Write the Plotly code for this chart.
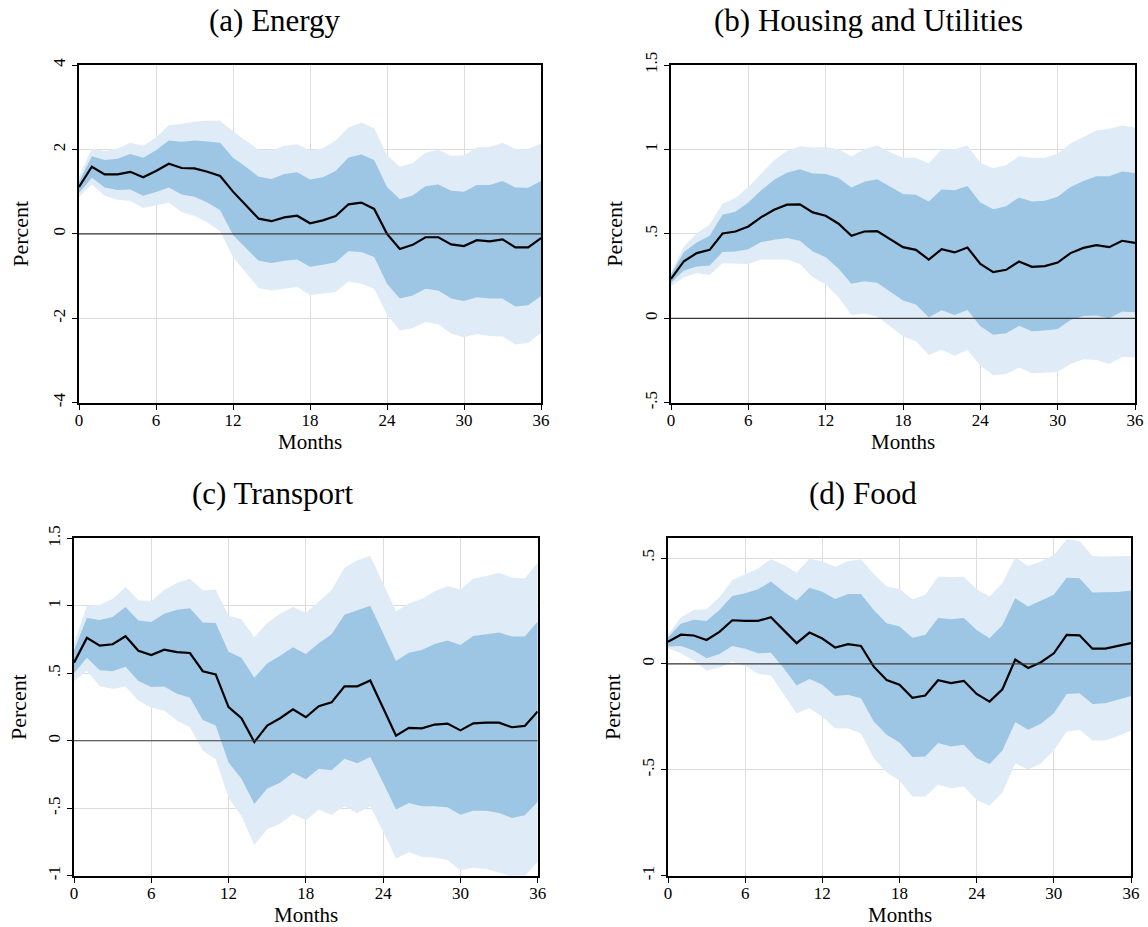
import plotly.graph_objects as go

# Horizon in months
months = list(range(37))

# (a) Energy: point estimate and 68% / 90% bands
irf_a = [1.11, 1.59, 1.41, 1.41, 1.47, 1.34, 1.49, 1.66, 1.56, 1.55, 1.47, 1.37, 1.00, 0.67, 0.36, 0.30, 0.39, 0.43, 0.25,
         0.32, 0.42, 0.70, 0.74, 0.59, 0.00, -0.36, -0.26, -0.08, -0.08, -0.25, -0.29, -0.15, -0.18, -0.13, -0.32, -0.32, -0.10]
hi68_a = [1.23, 1.84, 1.75, 1.78, 1.89, 1.80, 1.98, 2.21, 2.18, 2.21, 2.19, 2.16, 1.80, 1.59, 1.35, 1.30, 1.42, 1.46, 1.29,
          1.34, 1.49, 1.81, 1.88, 1.75, 1.11, 0.82, 0.91, 1.13, 1.17, 1.02, 1.00, 1.16, 1.16, 1.25, 1.10, 1.09, 1.25]
lo68_a = [0.97, 1.33, 1.10, 1.04, 1.05, 0.90, 0.99, 1.10, 0.93, 0.88, 0.74, 0.56, -0.03, -0.34, -0.64, -0.69, -0.64, -0.61, -0.78,
          -0.73, -0.67, -0.41, -0.43, -0.55, -1.18, -1.53, -1.46, -1.30, -1.34, -1.53, -1.59, -1.50, -1.53, -1.53, -1.72, -1.69, -1.47]
hi90_a = [1.35, 2.02, 1.96, 2.02, 2.16, 2.09, 2.28, 2.57, 2.60, 2.66, 2.68, 2.68, 2.43, 2.22, 1.99, 1.98, 2.09, 2.12, 1.98,
          2.03, 2.21, 2.52, 2.64, 2.50, 1.86, 1.59, 1.68, 1.92, 1.99, 1.85, 1.86, 2.05, 2.06, 2.16, 2.01, 2.01, 2.14]
lo90_a = [0.88, 1.17, 0.90, 0.81, 0.78, 0.61, 0.68, 0.74, 0.51, 0.43, 0.27, 0.06, -0.55, -0.92, -1.28, -1.34, -1.30, -1.26, -1.45,
          -1.42, -1.38, -1.13, -1.18, -1.30, -1.91, -2.29, -2.23, -2.09, -2.14, -2.36, -2.45, -2.37, -2.42, -2.43, -2.62, -2.58, -2.35]

# (b) Housing and Utilities
irf_b = [0.233, 0.338, 0.386, 0.405, 0.502, 0.514, 0.544, 0.599, 0.643, 0.673, 0.675, 0.627, 0.607, 0.560, 0.489, 0.514, 0.516,
         0.467, 0.421, 0.405, 0.348, 0.409, 0.390, 0.419, 0.322, 0.273, 0.287, 0.336, 0.305, 0.309, 0.330, 0.386, 0.417, 0.433,
         0.421, 0.459, 0.447]
hi68_b = [0.26, 0.392, 0.449, 0.489, 0.613, 0.631, 0.686, 0.758, 0.821, 0.862, 0.882, 0.857, 0.855, 0.831, 0.775, 0.809, 0.823,
          0.777, 0.736, 0.732, 0.692, 0.762, 0.758, 0.783, 0.686, 0.645, 0.663, 0.716, 0.692, 0.696, 0.720, 0.777, 0.813, 0.841,
          0.841, 0.870, 0.861]
lo68_b = [0.21, 0.283, 0.307, 0.313, 0.392, 0.396, 0.409, 0.451, 0.465, 0.475, 0.459, 0.396, 0.362, 0.293, 0.204, 0.220, 0.210,
          0.158, 0.105, 0.081, 0.006, 0.047, 0.020, 0.049, -0.047, -0.097, -0.089, -0.045, -0.077, -0.073, -0.063, -0.010, 0.014,
          0.016, 0.000, 0.040, 0.036]
hi90_b = [0.27, 0.425, 0.504, 0.556, 0.679, 0.712, 0.777, 0.857, 0.936, 0.991, 1.019, 1.011, 1.015, 1.001, 0.959, 1.001, 1.023,
          0.983, 0.950, 0.950, 0.918, 0.999, 1.001, 1.023, 0.920, 0.888, 0.906, 0.959, 0.950, 0.950, 0.975, 1.035, 1.074, 1.112,
          1.122, 1.141, 1.130]
lo90_b = [0.19, 0.243, 0.267, 0.257, 0.326, 0.322, 0.322, 0.348, 0.348, 0.348, 0.322, 0.243, 0.202, 0.125, 0.020, 0.028, 0.010,
          -0.047, -0.107, -0.136, -0.218, -0.186, -0.222, -0.188, -0.281, -0.338, -0.330, -0.291, -0.326, -0.322, -0.316, -0.271,
          -0.243, -0.247, -0.271, -0.229, -0.231]

# (c) Transport
irf_c = [0.578, 0.762, 0.705, 0.715, 0.774, 0.667, 0.635, 0.675, 0.657, 0.650, 0.515, 0.491, 0.249, 0.167, -0.010, 0.112, 0.167,
         0.232, 0.174, 0.256, 0.284, 0.403, 0.403, 0.446, 0.242, 0.037, 0.095, 0.092, 0.120, 0.127, 0.077, 0.129, 0.134, 0.134,
         0.100, 0.110, 0.217]
hi68_c = [0.67, 0.909, 0.894, 0.916, 0.991, 0.891, 0.879, 0.941, 0.971, 0.981, 0.876, 0.872, 0.660, 0.615, 0.466, 0.573, 0.630,
          0.692, 0.642, 0.722, 0.789, 0.934, 0.966, 1.001, 0.797, 0.590, 0.652, 0.672, 0.717, 0.742, 0.710, 0.777, 0.789, 0.802,
          0.772, 0.772, 0.884]
lo68_c = [0.50, 0.615, 0.523, 0.515, 0.548, 0.443, 0.398, 0.401, 0.349, 0.319, 0.154, 0.112, -0.162, -0.281, -0.468, -0.354,
          -0.311, -0.237, -0.286, -0.207, -0.219, -0.134, -0.167, -0.120, -0.311, -0.510, -0.461, -0.486, -0.486, -0.493, -0.548,
          -0.518, -0.518, -0.535, -0.573, -0.553, -0.453]
hi90_c = [0.72, 1.001, 1.008, 1.051, 1.140, 1.041, 1.036, 1.116, 1.170, 1.200, 1.113, 1.121, 0.926, 0.901, 0.767, 0.872, 0.941,
          0.991, 0.946, 1.033, 1.116, 1.282, 1.337, 1.370, 1.163, 0.959, 1.016, 1.051, 1.108, 1.145, 1.121, 1.200, 1.220, 1.245,
          1.208, 1.203, 1.320]
lo90_c = [0.44, 0.518, 0.403, 0.383, 0.401, 0.299, 0.244, 0.224, 0.149, 0.100, -0.075, -0.137, -0.423, -0.560, -0.772, -0.655,
          -0.615, -0.543, -0.590, -0.510, -0.548, -0.486, -0.538, -0.486, -0.672, -0.872, -0.827, -0.859, -0.867, -0.884, -0.959,
          -0.941, -0.951, -0.976, -1.008, -1.001, -0.896]

# (d) Food
irf_d = [0.105, 0.138, 0.134, 0.113, 0.151, 0.206, 0.203, 0.203, 0.220, 0.160, 0.098, 0.148, 0.120, 0.077, 0.093, 0.085, -0.013,
         -0.076, -0.098, -0.160, -0.149, -0.077, -0.091, -0.080, -0.142, -0.178, -0.120, 0.020, -0.019, 0.008, 0.050, 0.137,
         0.135, 0.072, 0.072, 0.085, 0.098]
hi68_d = [0.126, 0.189, 0.208, 0.203, 0.255, 0.321, 0.333, 0.352, 0.389, 0.341, 0.299, 0.360, 0.341, 0.307, 0.330, 0.330, 0.255,
          0.192, 0.176, 0.124, 0.137, 0.217, 0.211, 0.217, 0.160, 0.121, 0.182, 0.310, 0.271, 0.297, 0.326, 0.407, 0.404, 0.337,
          0.337, 0.340, 0.346]
lo68_d = [0.082, 0.085, 0.063, 0.027, 0.047, 0.085, 0.071, 0.050, 0.053, -0.020, -0.102, -0.071, -0.099, -0.151, -0.146, -0.162,
          -0.272, -0.335, -0.371, -0.440, -0.437, -0.374, -0.390, -0.382, -0.445, -0.473, -0.409, -0.275, -0.311, -0.283, -0.233,
          -0.142, -0.138, -0.189, -0.186, -0.170, -0.151]
hi90_d = [0.137, 0.220, 0.255, 0.258, 0.315, 0.396, 0.423, 0.451, 0.494, 0.467, 0.431, 0.497, 0.483, 0.459, 0.486, 0.494, 0.425,
          0.365, 0.354, 0.305, 0.326, 0.411, 0.409, 0.412, 0.352, 0.318, 0.381, 0.503, 0.462, 0.484, 0.514, 0.588, 0.580, 0.510,
          0.507, 0.507, 0.510]
lo90_d = [0.074, 0.050, 0.016, -0.031, -0.017, 0.011, -0.009, -0.047, -0.055, -0.146, -0.233, -0.209, -0.249, -0.304, -0.305,
          -0.327, -0.445, -0.513, -0.551, -0.626, -0.626, -0.571, -0.587, -0.579, -0.642, -0.670, -0.607, -0.469, -0.500, -0.469,
          -0.409, -0.319, -0.311, -0.362, -0.362, -0.340, -0.315]

titles = ["(a) Energy", "(b) Housing and Utilities", "(c) Transport", "(d) Food"]
x_ticks = [0, 6, 12, 18, 24, 30, 36]
y_tickvals = [[-4, -2, 0, 2, 4], [-0.5, 0, 0.5, 1, 1.5], [-1, -0.5, 0, 0.5, 1, 1.5], [-1, -0.5, 0, 0.5]]
y_ticktext = [["-4", "-2", "0", "2", "4"], ["-.5", "0", ".5", "1", "1.5"],
              ["-1", "-.5", "0", ".5", "1", "1.5"], ["-1", "-.5", "0", ".5"]]
y_ranges = [[-4, 4], [-0.5, 1.5], [-1, 1.5], [-1, 0.593]]

panels = [
    (irf_a, hi68_a, lo68_a, hi90_a, lo90_a),
    (irf_b, hi68_b, lo68_b, hi90_b, lo90_b),
    (irf_c, hi68_c, lo68_c, hi90_c, lo90_c),
    (irf_d, hi68_d, lo68_d, hi90_d, lo90_d),
]

W, H = 1148, 927
# plot-area boxes in pixels: left, right, top, bottom
boxes = [(79, 541, 65, 402.7), (671, 1135, 65, 402.7), (74, 537.7, 538.3, 875.7), (668, 1131, 538.3, 875.7)]
title_pos = [(275, 20), (868, 20), (272, 494), (863, 494)]
ytitle_x = [21, 615, 18, 612]

FONT = "Liberation Serif"
LIGHT = "#dfecf7"
DARK = "#9cc6e4"
GRID = "#dcdcdc"

fig = go.Figure()
layout = dict(
    template="none",
    width=W, height=H, margin=dict(l=0, r=0, t=0, b=0, pad=0),
    paper_bgcolor="white", plot_bgcolor="white", showlegend=False,
    font=dict(family=FONT, color="black"),
)
annotations = []
shapes = []

for i, (irf, hi68, lo68, hi90, lo90) in enumerate(panels):
    n = "" if i == 0 else str(i + 1)
    xa, ya = "x" + n, "y" + n
    for lo, hi, col in [(lo90, hi90, LIGHT), (lo68, hi68, DARK)]:
        fig.add_trace(go.Scatter(x=months, y=lo, mode="lines", line=dict(width=0, color=col),
                                 hoverinfo="skip", xaxis=xa, yaxis=ya))
        fig.add_trace(go.Scatter(x=months, y=hi, mode="lines", line=dict(width=0, color=col),
                                 fill="tonexty", fillcolor=col, hoverinfo="skip", xaxis=xa, yaxis=ya))
    fig.add_trace(go.Scatter(x=months, y=irf, mode="lines", line=dict(color="black", width=2.2),
                             xaxis=xa, yaxis=ya))

    l, r, t, b = boxes[i]
    layout["xaxis" + n] = dict(
        domain=[l / W, r / W], anchor=ya, range=[0, 36], automargin=False,
        tickvals=x_ticks, ticktext=[str(v) for v in x_ticks],
        ticks="outside", ticklen=5, tickwidth=1, tickcolor="black", ticklabelstandoff=-4,
        tickfont=dict(size=17, family=FONT),
        showgrid=True, gridcolor=GRID, gridwidth=1,
        showline=True, linecolor="black", linewidth=2, mirror=True,
        zeroline=False,
    )
    layout["yaxis" + n] = dict(
        domain=[1 - b / H, 1 - t / H], anchor=xa, range=y_ranges[i], automargin=False,
        tickvals=y_tickvals[i], ticktext=y_ticktext[i], tickangle=-90,
        ticks="outside", ticklen=5, tickwidth=1, tickcolor="black",
        tickfont=dict(size=17, family=FONT),
        showgrid=True, gridcolor=GRID, gridwidth=1,
        showline=True, linecolor="black", linewidth=2, mirror=True,
        zeroline=False,
    )
    # zero reference line
    shapes.append(dict(type="line", xref=xa + " domain", yref=ya, x0=0, x1=1, y0=0, y1=0,
                       line=dict(color="#3a3a3a", width=1.2), layer="above"))
    tx, ty = title_pos[i]
    annotations.append(dict(text=titles[i], xref="paper", yref="paper", x=tx / W, y=1 - ty / H,
                            xanchor="center", yanchor="middle", showarrow=False,
                            font=dict(size=31, family=FONT)))
    annotations.append(dict(text="Percent", xref="paper", yref="paper", x=ytitle_x[i] / W,
                            y=1 - (t + b) / 2 / H, xanchor="center", yanchor="middle",
                            textangle=-90, showarrow=False, font=dict(size=22, family=FONT)))
    annotations.append(dict(text="Months", xref="paper", yref="paper", x=(l + r) / 2 / W,
                            y=1 - (b + 39) / H, xanchor="center", yanchor="middle",
                            showarrow=False, font=dict(size=21, family=FONT)))

layout["annotations"] = annotations
layout["shapes"] = shapes
fig.update_layout(**layout)
fig.write_html("out.html")
